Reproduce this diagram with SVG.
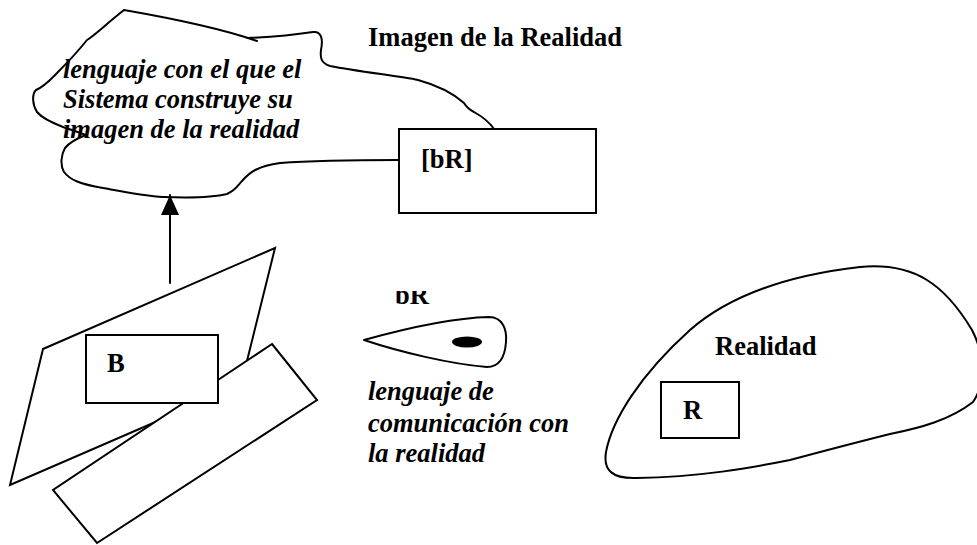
<svg xmlns="http://www.w3.org/2000/svg" width="977" height="545" viewBox="0 0 977 545">
<defs>
<style>
.ln{fill:none;stroke:#000;stroke-width:2;stroke-linejoin:round;stroke-linecap:round}
.sh{fill:#fff;stroke:#000;stroke-width:2;stroke-linejoin:miter}
.t{font-family:"Liberation Serif","Times New Roman",serif;font-weight:bold;font-size:26.5px;fill:#000}
.ti{font-family:"Liberation Serif","Times New Roman",serif;font-weight:bold;font-style:italic;font-size:26.5px;fill:#000}
</style>
<marker id="ah" viewBox="0 0 20 18" refX="20" refY="9" markerWidth="20" markerHeight="18" markerUnits="userSpaceOnUse" orient="auto">
<path d="M0,0 L20,9 L0,18 Z" fill="#000"/>
</marker>
<clipPath id="clipbR"><rect x="380" y="291" width="60" height="20"/></clipPath>
</defs>
<rect width="977" height="545" fill="#fff"/>

<g id="imagen-realidad">
<path class="ln" d="M124,10 C170,18 220,28 257,41 M247,38 C270,37 300,34 313,32 C322,31 323,40 321,50 C320,58 321,63 330,66 C360,72 400,76 418,80 C440,86 455,95 464,103 C467,108 470,110 474,112 C483,117 490,123 494,129 M124,10 C105,25 95,35 87,40 C75,55 65,65 58,72 C50,80 45,86 36,90 C32,94 32,104 37,112 C42,118 50,122 63,127 C72,130 80,133 86,135 C78,138 70,142 65,148 C61,155 60,165 64,172 C70,180 80,184 103,188 C125,192 145,196 163,197 C190,198 215,197 227,194 C236,190 238,185 242,181 C250,172 258,166 280,163 C320,160 360,160 399,160"/>
<text class="ti" x="63" y="78">lenguaje con el que el</text>
<text class="ti" x="63" y="108">Sistema construye su</text>
<text class="ti" x="63" y="138">imagen de la realidad</text>
<text class="t" x="368" y="46">Imagen de la Realidad</text>
</g>

<g id="bR-box">
<rect class="sh" x="399" y="129" width="197" height="84"/>
<text class="t" x="421" y="168">[bR]</text>
</g>

<g id="connectors">
<line class="ln" x1="170" y1="283" x2="170" y2="195" marker-end="url(#ah)"/>
</g>

<g id="sistema">
<polygon class="sh" points="43,349 275,248 241,385 10,485"/>
<polygon class="sh" points="272,344 317,400 97,543 53,490"/>
</g>

<g id="B-box">
<rect class="sh" x="86" y="335" width="132" height="68"/>
<text class="t" x="107" y="372">B</text>
</g>

<g id="lenguaje-comunicacion">
<text class="t" x="395" y="304" clip-path="url(#clipbR)">bR</text>
<path class="ln" d="M364,340 C400,330 450,318 489,317 C503,317 507,330 506,342 C505,356 500,367 487,367 C450,364 400,352 364,340 Z"/>
<ellipse cx="467" cy="342" rx="15" ry="5.5" fill="#000"/>
<text class="ti" x="368" y="400">lenguaje de</text>
<text class="ti" x="368" y="432">comunicación con</text>
<text class="ti" x="368" y="462">la realidad</text>
</g>

<g id="realidad">
<path class="ln" d="M637,478 C612,479 603,470 606,452 C612,420 640,375 690,330 C730,295 790,275 860,267 C915,262 945,285 972,330 C985,355 985,385 973,402 C950,420 920,428 890,434 C850,444 820,452 790,460 C750,468 700,477 637,478 Z"/>
<text class="t" x="715" y="355">Realidad</text>
</g>

<g id="R-box">
<rect class="sh" x="661" y="382" width="78" height="56"/>
<text class="t" x="683" y="419">R</text>
</g>
</svg>
